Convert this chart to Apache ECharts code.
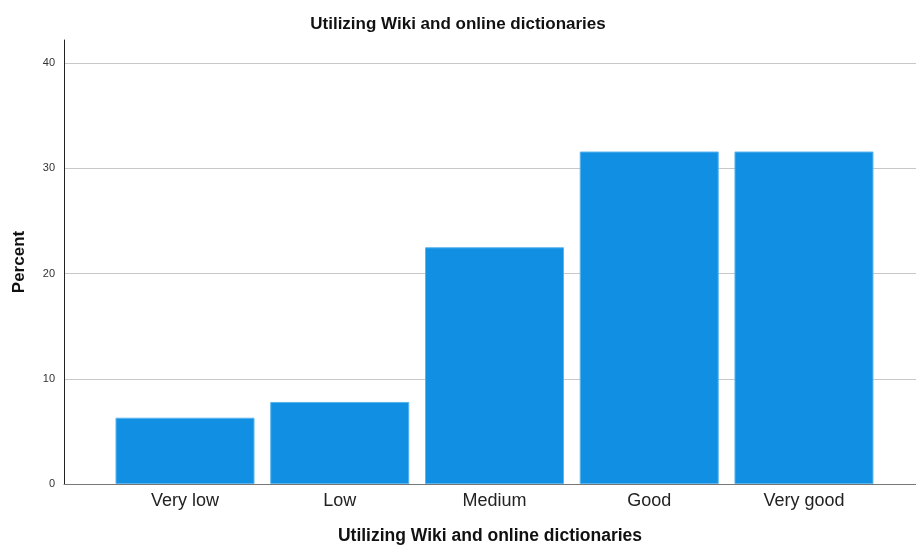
<!DOCTYPE html>
<html>
<head>
<meta charset="utf-8">
<script src="https://cdn.jsdelivr.net/npm/echarts@6/dist/echarts.min.js"></script>
<style>html,body{margin:0;padding:0;background:#fff}#c{width:916px;height:550px}</style>
</head>
<body>
<div id="c"></div>
<script>
const categories = ['Very low', 'Low', 'Medium', 'Good', 'Very good'];
const percentValues = [6.3, 7.8, 22.5, 31.6, 31.6];
const yTicks = [0, 10, 20, 30, 40];

const chart = echarts.init(document.getElementById('c'), null, {renderer: 'canvas'});
const positions = categories.map((c, i) => i);
const FONT = 'Arial, "Liberation Sans", sans-serif';
chart.setOption({
  animation: false,
  textStyle: {fontFamily: FONT},
  title: {
    text: 'Utilizing Wiki and online dictionaries',
    left: 'center', top: 11,
    textStyle: {fontSize: 17, fontWeight: 'bold', color: '#111', fontFamily: FONT}
  },
  grid: {left: 64, right: 0, top: 40, bottom: 62, containLabel: false},
  xAxis: {
    type: 'value', min: -0.782, max: 4.724,
    name: 'Utilizing Wiki and online dictionaries',
    nameLocation: 'middle', nameGap: 43,
    nameTextStyle: {fontSize: 17.5, fontWeight: 'bold', color: '#111', fontFamily: FONT},
    axisLine: {show: true, onZero: false, lineStyle: {color: '#777', width: 1}},
    axisTick: {show: false},
    splitLine: {show: false},
    axisLabel: {
      customValues: positions,
      formatter: v => categories[Math.round(v)] || '',
      fontSize: 18, color: '#222', margin: 8
    }
  },
  yAxis: {
    type: 'value', min: 0, max: 42.2, interval: 10,
    name: 'Percent', nameLocation: 'middle', nameGap: 36,
    nameTextStyle: {fontSize: 17, fontWeight: 'bold', color: '#111', fontFamily: FONT},
    axisLine: {show: true, onZero: false, lineStyle: {color: '#222', width: 1}},
    axisTick: {show: false},
    axisLabel: {customValues: yTicks, fontSize: 11, color: '#333', margin: 9},
    splitLine: {show: true, showMinLine: false, showMaxLine: false, lineStyle: {color: '#c8c8c8', width: 1}}
  },
  series: [{
    type: 'bar',
    barWidth: 139,
    data: percentValues.map((v, i) => [positions[i], v]),
    itemStyle: {color: '#1190e3', borderColor: '#5ab4ee', borderWidth: 1}
  }]
});
</script>
</body>
</html>
